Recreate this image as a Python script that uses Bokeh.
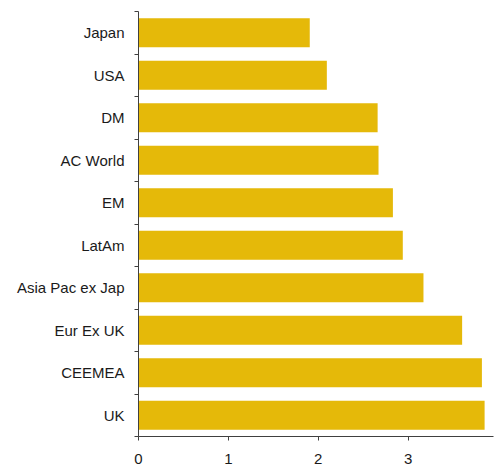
from bokeh.plotting import figure
from bokeh.models import FixedTicker, Range1d
from bokeh.embed import file_html
from bokeh.resources import INLINE

categories = ["Japan", "USA", "DM", "AC World", "EM", "LatAm",
              "Asia Pac ex Jap", "Eur Ex UK", "CEEMEA", "UK"]
values = [1.905, 2.095, 2.66, 2.67, 2.83, 2.94, 3.17, 3.60, 3.82, 3.85]
x_ticks = [0, 1, 2, 3, 4]

n = len(categories)
ypos = [n - 0.5 - i for i in range(n)]

p = figure(width=494, height=468, output_backend="svg", toolbar_location=None,
           x_range=Range1d(0, 3.949), y_range=Range1d(0, n),
           min_border_left=138, min_border_right=1, min_border_top=11,
           min_border_bottom=32)
p.outline_line_color = None
p.xgrid.visible = False
p.ygrid.visible = False
p.background_fill_color = "white"
p.border_fill_color = "white"

p.hbar(y=ypos, right=values, left=0, height=0.68, color="#E5B909", line_color=None)

axis_color = "#404040"
font = "Liberation Sans"

xa = p.xaxis[0]
xa.ticker = FixedTicker(ticks=x_ticks, minor_ticks=[])
xa.axis_line_color = axis_color
xa.major_tick_line_color = axis_color
xa.major_tick_out = 4
xa.major_tick_in = 0
xa.minor_tick_line_color = None
xa.major_label_standoff = 13
xa.major_label_text_font = font
xa.major_label_text_font_size = "15px"
xa.major_label_text_color = "#1a1a1a"

ya = p.yaxis[0]
ya.ticker = FixedTicker(ticks=ypos, minor_ticks=list(range(n + 1)))
ya.major_label_overrides = {y: c for y, c in zip(ypos, categories)}
ya.axis_line_color = axis_color
ya.major_tick_line_color = None
ya.major_tick_out = 0
ya.major_tick_in = 0
ya.minor_tick_line_color = axis_color
ya.minor_tick_out = 4
ya.minor_tick_in = 0
ya.major_label_standoff = 10
ya.major_label_text_font = font
ya.major_label_text_font_size = "15px"
ya.major_label_text_color = "#1a1a1a"

open("out.html", "w").write(file_html(p, INLINE))
